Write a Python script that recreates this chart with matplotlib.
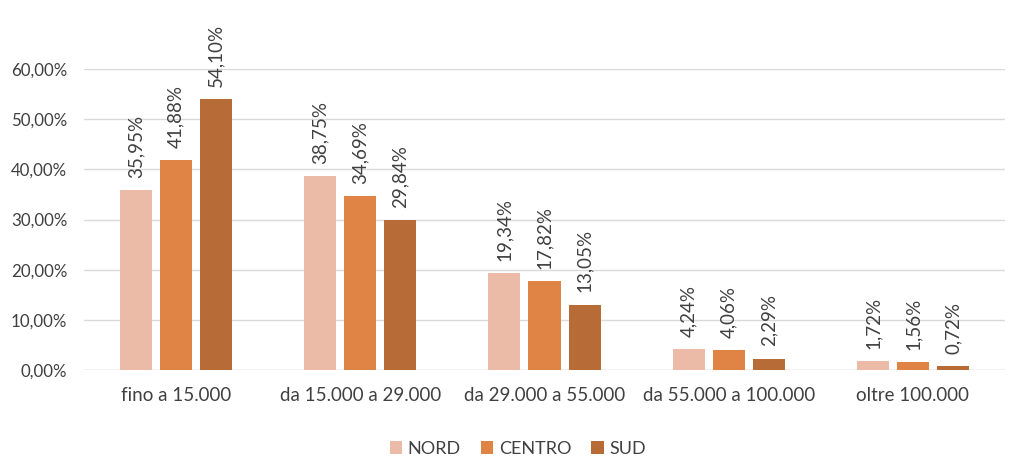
import matplotlib
matplotlib.use("Agg")
import matplotlib.pyplot as plt
import numpy as np
from matplotlib.ticker import FuncFormatter

categories = ["fino a 15.000", "da 15.000 a 29.000", "da 29.000 a 55.000", "da 55.000 a 100.000", "oltre 100.000"]
series_names = ["NORD", "CENTRO", "SUD"]
nord = [35.95, 38.75, 19.34, 4.24, 1.72]
centro = [41.88, 34.69, 17.82, 4.06, 1.56]
sud = [54.10, 29.84, 13.05, 2.29, 0.72]
colors = ["#EBBBA7", "#E08446", "#B76B37"]

plt.rcParams['font.family'] = ['Lato', 'DejaVu Sans']
fig = plt.figure(figsize=(10.24, 4.73), dpi=100)
ax = fig.add_axes([84/1024, 1-370/473, (1005-84)/1024, (370-69)/473])

x = np.arange(len(categories))
bw = 32/184
step = 40/184
for i, (vals, name, c) in enumerate(zip([nord, centro, sud], series_names, colors)):
    pos = x + (i-1)*step
    ax.bar(pos, vals, width=bw, color=c, label=name, zorder=3)
    for p, v in zip(pos, vals):
        ax.text(p, v + 2.4, f"{v:.2f}%".replace('.', ','), rotation=90, ha='center', va='bottom',
                fontsize=13.5, color='#404040')

ax.set_xlim(-0.5, 4.5)
ax.set_ylim(0, 60)
ax.set_yticks(np.arange(0, 61, 10))
ax.yaxis.set_major_formatter(FuncFormatter(lambda v, p: f"{v:.2f}%".replace('.', ',')))
ax.set_xticks(x)
ax.set_xticklabels(categories)
ax.tick_params(axis='both', length=0, colors='#404040')
ax.tick_params(axis='x', pad=12, labelsize=13.5)
ax.tick_params(axis='y', pad=12, labelsize=12.2)
ax.grid(axis='y', color='#D9D9D9', linewidth=1, zorder=0)
for s in ax.spines.values():
    s.set_visible(False)
ax.axhline(0, color='#D9D9D9', linewidth=1, zorder=2)

leg = ax.legend(loc='upper center', bbox_to_anchor=(0.471, -0.182), ncol=3, frameon=False,
                fontsize=13, handlelength=0.7, handleheight=0.7, handletextpad=0.3, columnspacing=1.1)
for t in leg.get_texts():
    t.set_color('#404040')

fig.savefig("out.png", dpi=100)
